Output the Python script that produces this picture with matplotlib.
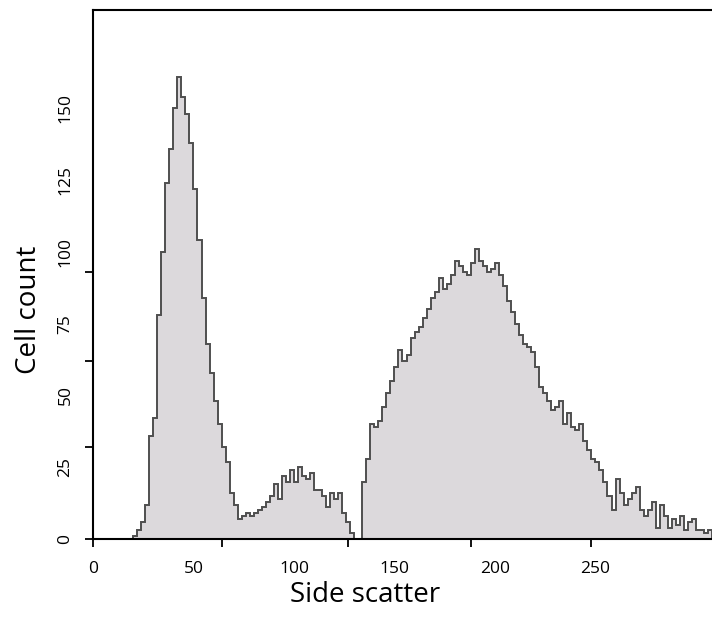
import numpy as np
import matplotlib
matplotlib.use("Agg")
import matplotlib.pyplot as plt

plt.rcParams['font.family'] = ['Open Sans', 'DejaVu Sans']

# histogram channels (side scatter units), bin width 2
bin_edges = np.arange(18, 310, 2)
counts = [0, 1, 3, 6, 12, 36, 42, 78, 100, 124,
          136, 150, 161, 154, 148, 138, 122, 104, 84, 68,
          58, 48, 40, 32, 27, 16, 12, 7, 8, 9,
          8, 9, 10, 11, 13, 15, 19, 14, 22, 20,
          24, 20, 25, 22, 21, 23, 17, 17, 15, 11,
          16, 14, 16, 9, 6, 2, 0, 0, 20, 28,
          40, 39, 41, 46, 51, 55, 60, 66, 62, 64,
          70, 72, 74, 77, 80, 84, 86, 91, 87, 89,
          92, 97, 95, 93, 92, 96, 101, 97, 95, 93,
          94, 96, 92, 88, 83, 79, 75, 71, 68, 67,
          65, 60, 53, 51, 48, 45, 46, 48, 40, 44,
          39, 38, 40, 34, 31, 28, 27, 24, 20, 15,
          10, 21, 16, 12, 14, 16, 18, 10, 8, 10,
          13, 4, 12, 8, 4, 7, 5, 8, 3, 6,
          7, 3, 3, 2, 3]

xlabels = [0, 50, 100, 150, 200, 250]
ylabels = [0, 25, 50, 75, 100, 125, 150]
xmarks = [0, 64, 127, 188, 248]
ymarks = [0, 32, 62, 93]

fig = plt.figure(figsize=(7.12, 6.17), dpi=100)
ax = fig.add_axes([0.1306, 0.1264, 0.8694, 0.8574])

ax.stairs(counts, bin_edges, fill=True, color='#dcd9dc')
ax.stairs(counts, bin_edges, color='#4f4f4f', lw=1.4)

ax.set_xlim(0, 308)
ax.set_ylim(0, 184.3)

for s in ['left', 'top', 'bottom']:
    ax.spines[s].set_linewidth(1.5)
ax.spines['right'].set_visible(False)

# tick marks (unlabelled) and labels (no marks) sit at different places
ax.xaxis.remove_overlapping_locs = False
ax.yaxis.remove_overlapping_locs = False
ax.set_xticks(xmarks)
ax.set_xticklabels([])
ax.set_xticks(xlabels, minor=True)
ax.set_xticklabels([str(v) for v in xlabels], minor=True, fontsize=12.5)
ax.set_yticks(ymarks)
ax.set_yticklabels([])
ax.set_yticks(ylabels, minor=True)
ax.set_yticklabels([str(v) for v in ylabels], minor=True, fontsize=12.5,
                   rotation=90, va='center')

ax.tick_params(which='major', length=6, width=1.3, direction='out')
ax.tick_params(which='minor', length=0)
ax.tick_params(axis='x', which='minor', pad=16)
ax.tick_params(axis='y', which='minor', pad=14)

ax.set_xlabel("Side scatter", fontsize=20)
ax.set_ylabel("Cell count", fontsize=20)
ax.xaxis.set_label_coords(0.44, -0.08)
ax.yaxis.set_label_coords(-0.08, 0.433)

fig.savefig("out.png", dpi=100)
